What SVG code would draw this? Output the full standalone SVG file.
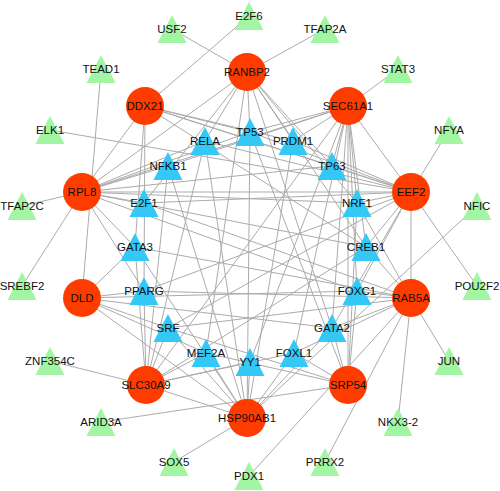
<svg xmlns="http://www.w3.org/2000/svg" width="500" height="491" viewBox="0 0 500 491">
<defs>
<style>
.e line{stroke:#ababab;stroke-width:1;fill:none}
text{font-family:"Liberation Sans",Arial,sans-serif;font-size:11.5px;fill:#111;text-anchor:middle}
</style>
<circle id="gene" r="19" fill="#ff3c00"/>
<polygon id="tb" points="0,-14 14.5,14 -14.5,14" fill="#33c8f6"/>
<polygon id="tg" points="0,-14 14.5,14 -14.5,14" fill="#a2f5a2"/>
</defs>
<rect width="500" height="491" fill="#fff"/>
<g id="edges" class="e">
<line x1="172" y1="29" x2="247" y2="72"/>
<line x1="249" y1="16" x2="145" y2="106"/>
<line x1="325" y1="29" x2="247" y2="72"/>
<line x1="101" y1="69" x2="82" y2="298"/>
<line x1="398" y1="69" x2="348" y2="106"/>
<line x1="50" y1="130" x2="411" y2="192"/>
<line x1="449" y1="130" x2="411" y2="192"/>
<line x1="22" y1="206" x2="82" y2="192"/>
<line x1="22" y1="286" x2="82" y2="192"/>
<line x1="477" y1="206" x2="247" y2="418"/>
<line x1="477" y1="286" x2="411" y2="192"/>
<line x1="50" y1="361" x2="146" y2="385"/>
<line x1="449" y1="361" x2="411" y2="298"/>
<line x1="101" y1="422" x2="348" y2="385"/>
<line x1="398" y1="422" x2="411" y2="298"/>
<line x1="174" y1="462" x2="247" y2="418"/>
<line x1="249" y1="476" x2="411" y2="298"/>
<line x1="325" y1="462" x2="411" y2="298"/>
<line x1="82" y1="192" x2="145" y2="106"/>
<line x1="82" y1="192" x2="247" y2="72"/>
<line x1="82" y1="192" x2="348" y2="106"/>
<line x1="348" y1="106" x2="411" y2="192"/>
<line x1="411" y1="192" x2="411" y2="298"/>
<line x1="82" y1="298" x2="247" y2="418"/>
<line x1="348" y1="106" x2="348" y2="385"/>
<line x1="247" y1="72" x2="144" y2="203"/>
<line x1="247" y1="72" x2="205" y2="141"/>
<line x1="247" y1="72" x2="250" y2="132"/>
<line x1="247" y1="72" x2="293" y2="141"/>
<line x1="247" y1="72" x2="332" y2="166"/>
<line x1="247" y1="72" x2="357" y2="203"/>
<line x1="247" y1="72" x2="366" y2="247"/>
<line x1="247" y1="72" x2="206" y2="353"/>
<line x1="247" y1="72" x2="332" y2="328"/>
<line x1="145" y1="106" x2="144" y2="291"/>
<line x1="145" y1="106" x2="250" y2="132"/>
<line x1="145" y1="106" x2="293" y2="141"/>
<line x1="145" y1="106" x2="332" y2="166"/>
<line x1="145" y1="106" x2="411" y2="192"/>
<line x1="145" y1="106" x2="135" y2="247"/>
<line x1="145" y1="106" x2="366" y2="247"/>
<line x1="348" y1="106" x2="250" y2="132"/>
<line x1="348" y1="106" x2="168" y2="166"/>
<line x1="348" y1="106" x2="332" y2="166"/>
<line x1="348" y1="106" x2="357" y2="203"/>
<line x1="348" y1="106" x2="366" y2="247"/>
<line x1="348" y1="106" x2="357" y2="291"/>
<line x1="348" y1="106" x2="332" y2="328"/>
<line x1="348" y1="106" x2="146" y2="385"/>
<line x1="348" y1="106" x2="250" y2="362"/>
<line x1="348" y1="106" x2="294" y2="353"/>
<line x1="348" y1="106" x2="293" y2="141"/>
<line x1="82" y1="192" x2="168" y2="166"/>
<line x1="82" y1="192" x2="205" y2="141"/>
<line x1="82" y1="192" x2="250" y2="132"/>
<line x1="82" y1="192" x2="332" y2="166"/>
<line x1="82" y1="192" x2="144" y2="203"/>
<line x1="82" y1="192" x2="357" y2="203"/>
<line x1="82" y1="192" x2="366" y2="247"/>
<line x1="82" y1="192" x2="135" y2="247"/>
<line x1="82" y1="192" x2="144" y2="291"/>
<line x1="82" y1="192" x2="357" y2="291"/>
<line x1="82" y1="192" x2="411" y2="192"/>
<line x1="411" y1="192" x2="205" y2="141"/>
<line x1="411" y1="192" x2="250" y2="132"/>
<line x1="411" y1="192" x2="357" y2="203"/>
<line x1="411" y1="192" x2="366" y2="247"/>
<line x1="411" y1="192" x2="332" y2="166"/>
<line x1="411" y1="192" x2="144" y2="203"/>
<line x1="411" y1="192" x2="357" y2="291"/>
<line x1="411" y1="192" x2="332" y2="328"/>
<line x1="411" y1="192" x2="168" y2="328"/>
<line x1="411" y1="192" x2="144" y2="291"/>
<line x1="411" y1="192" x2="293" y2="141"/>
<line x1="82" y1="298" x2="135" y2="247"/>
<line x1="82" y1="298" x2="144" y2="291"/>
<line x1="82" y1="298" x2="168" y2="328"/>
<line x1="82" y1="298" x2="357" y2="291"/>
<line x1="82" y1="298" x2="206" y2="353"/>
<line x1="82" y1="298" x2="332" y2="328"/>
<line x1="411" y1="298" x2="357" y2="291"/>
<line x1="411" y1="298" x2="366" y2="247"/>
<line x1="411" y1="298" x2="332" y2="328"/>
<line x1="411" y1="298" x2="357" y2="203"/>
<line x1="411" y1="298" x2="135" y2="247"/>
<line x1="411" y1="298" x2="144" y2="291"/>
<line x1="411" y1="298" x2="294" y2="353"/>
<line x1="411" y1="298" x2="168" y2="328"/>
<line x1="411" y1="298" x2="144" y2="203"/>
<line x1="146" y1="385" x2="168" y2="166"/>
<line x1="146" y1="385" x2="168" y2="328"/>
<line x1="146" y1="385" x2="366" y2="247"/>
<line x1="146" y1="385" x2="206" y2="353"/>
<line x1="146" y1="385" x2="250" y2="362"/>
<line x1="146" y1="385" x2="294" y2="353"/>
<line x1="146" y1="385" x2="247" y2="418"/>
<line x1="146" y1="385" x2="135" y2="247"/>
<line x1="146" y1="385" x2="205" y2="141"/>
<line x1="146" y1="385" x2="144" y2="291"/>
<line x1="348" y1="385" x2="332" y2="328"/>
<line x1="348" y1="385" x2="357" y2="291"/>
<line x1="348" y1="385" x2="294" y2="353"/>
<line x1="348" y1="385" x2="206" y2="353"/>
<line x1="348" y1="385" x2="250" y2="132"/>
<line x1="348" y1="385" x2="357" y2="203"/>
<line x1="348" y1="385" x2="168" y2="328"/>
<line x1="247" y1="418" x2="168" y2="328"/>
<line x1="247" y1="418" x2="206" y2="353"/>
<line x1="247" y1="418" x2="250" y2="362"/>
<line x1="247" y1="418" x2="294" y2="353"/>
<line x1="247" y1="418" x2="332" y2="328"/>
<line x1="247" y1="418" x2="250" y2="132"/>
<line x1="247" y1="418" x2="205" y2="141"/>
<line x1="247" y1="418" x2="293" y2="141"/>
<line x1="247" y1="418" x2="168" y2="166"/>
<line x1="247" y1="418" x2="135" y2="247"/>
</g>
<g id="n-RANBP2" transform="translate(247,72)"><use href="#gene"/><text y="4">RANBP2</text></g>
<g id="n-DDX21" transform="translate(145,106)"><use href="#gene"/><text y="4">DDX21</text></g>
<g id="n-SEC61A1" transform="translate(348,106)"><use href="#gene"/><text y="4">SEC61A1</text></g>
<g id="n-RPL8" transform="translate(82,192)"><use href="#gene"/><text y="4">RPL8</text></g>
<g id="n-EEF2" transform="translate(411,192)"><use href="#gene"/><text y="4">EEF2</text></g>
<g id="n-DLD" transform="translate(82,298)"><use href="#gene"/><text y="4">DLD</text></g>
<g id="n-RAB5A" transform="translate(411,298)"><use href="#gene"/><text y="4">RAB5A</text></g>
<g id="n-SLC30A9" transform="translate(146,385)"><use href="#gene"/><text y="4">SLC30A9</text></g>
<g id="n-SRP54" transform="translate(348,385)"><use href="#gene"/><text y="4">SRP54</text></g>
<g id="n-HSP90AB1" transform="translate(247,418)"><use href="#gene"/><text y="4">HSP90AB1</text></g>
<g id="n-RELA" transform="translate(205,141)"><use href="#tb"/><text y="4">RELA</text></g>
<g id="n-TP53" transform="translate(250,132)"><use href="#tb"/><text y="4">TP53</text></g>
<g id="n-PRDM1" transform="translate(293,141)"><use href="#tb"/><text y="4">PRDM1</text></g>
<g id="n-NFKB1" transform="translate(168,166)"><use href="#tb"/><text y="4">NFKB1</text></g>
<g id="n-TP63" transform="translate(332,166)"><use href="#tb"/><text y="4">TP63</text></g>
<g id="n-E2F1" transform="translate(144,203)"><use href="#tb"/><text y="4">E2F1</text></g>
<g id="n-NRF1" transform="translate(357,203)"><use href="#tb"/><text y="4">NRF1</text></g>
<g id="n-GATA3" transform="translate(135,247)"><use href="#tb"/><text y="4">GATA3</text></g>
<g id="n-CREB1" transform="translate(366,247)"><use href="#tb"/><text y="4">CREB1</text></g>
<g id="n-PPARG" transform="translate(144,291)"><use href="#tb"/><text y="4">PPARG</text></g>
<g id="n-FOXC1" transform="translate(357,291)"><use href="#tb"/><text y="4">FOXC1</text></g>
<g id="n-SRF" transform="translate(168,328)"><use href="#tb"/><text y="4">SRF</text></g>
<g id="n-GATA2" transform="translate(332,328)"><use href="#tb"/><text y="4">GATA2</text></g>
<g id="n-MEF2A" transform="translate(206,353)"><use href="#tb"/><text y="4">MEF2A</text></g>
<g id="n-YY1" transform="translate(250,362)"><use href="#tb"/><text y="4">YY1</text></g>
<g id="n-FOXL1" transform="translate(294,353)"><use href="#tb"/><text y="4">FOXL1</text></g>
<g id="n-E2F6" transform="translate(249,16)"><use href="#tg"/><text y="4">E2F6</text></g>
<g id="n-USF2" transform="translate(172,29)"><use href="#tg"/><text y="4">USF2</text></g>
<g id="n-TFAP2A" transform="translate(325,29)"><use href="#tg"/><text y="4">TFAP2A</text></g>
<g id="n-TEAD1" transform="translate(101,69)"><use href="#tg"/><text y="4">TEAD1</text></g>
<g id="n-STAT3" transform="translate(398,69)"><use href="#tg"/><text y="4">STAT3</text></g>
<g id="n-ELK1" transform="translate(50,130)"><use href="#tg"/><text y="4">ELK1</text></g>
<g id="n-NFYA" transform="translate(449,130)"><use href="#tg"/><text y="4">NFYA</text></g>
<g id="n-TFAP2C" transform="translate(22,206)"><use href="#tg"/><text y="4">TFAP2C</text></g>
<g id="n-NFIC" transform="translate(477,206)"><use href="#tg"/><text y="4">NFIC</text></g>
<g id="n-SREBF2" transform="translate(22,286)"><use href="#tg"/><text y="4">SREBF2</text></g>
<g id="n-POU2F2" transform="translate(477,286)"><use href="#tg"/><text y="4">POU2F2</text></g>
<g id="n-ZNF354C" transform="translate(50,361)"><use href="#tg"/><text y="4">ZNF354C</text></g>
<g id="n-JUN" transform="translate(449,361)"><use href="#tg"/><text y="4">JUN</text></g>
<g id="n-ARID3A" transform="translate(101,422)"><use href="#tg"/><text y="4">ARID3A</text></g>
<g id="n-NKX3-2" transform="translate(398,422)"><use href="#tg"/><text y="4">NKX3-2</text></g>
<g id="n-SOX5" transform="translate(174,462)"><use href="#tg"/><text y="4">SOX5</text></g>
<g id="n-PDX1" transform="translate(249,476)"><use href="#tg"/><text y="4">PDX1</text></g>
<g id="n-PRRX2" transform="translate(325,462)"><use href="#tg"/><text y="4">PRRX2</text></g>
</svg>
